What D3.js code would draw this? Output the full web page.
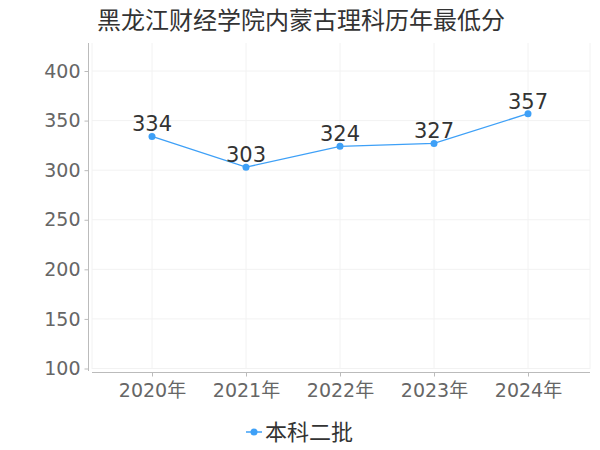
<!DOCTYPE html>
<html><head><meta charset="utf-8">
<script src="https://cdn.jsdelivr.net/npm/d3@7/dist/d3.min.js"></script>
<style>body{margin:0;background:#fff;} svg{display:block;}</style>
</head><body>
<svg id="c" width="600" height="450"></svg>
<script>
const title = "黑龙江财经学院内蒙古理科历年最低分";
const categories = ["2020年","2021年","2022年","2023年","2024年"];
const seriesName = "本科二批";
const values = [334, 303, 324, 327, 357];
const yTicks = [100,150,200,250,300,350,400];

const svg = d3.select("#c");
const font = "'DejaVu Sans','Noto Sans CJK SC',sans-serif";
const color = "#3ea0f7";

const x = d3.scalePoint().domain(categories).range([152, 528]);
const y = d3.scaleLinear().domain([100, 400]).range([368.5, 71]);
const plotL = 92, plotR = 590, plotT = 43, plotB = 369;

svg.append("text").attr("x", 97).attr("y", 29).attr("font-family", font)
  .attr("font-size", 24).attr("fill", "#333").text(title);

// grid
const g = svg.append("g");
g.selectAll(".hg").data(yTicks).join("line")
  .attr("x1", plotL).attr("x2", plotR).attr("y1", d => y(d)).attr("y2", d => y(d))
  .attr("stroke", "#f2f2f2").attr("stroke-width", 1);
const vxs = [plotL, ...categories.map(c => x(c)), plotR];
g.selectAll(".vg").data(vxs).join("line")
  .attr("x1", d => d).attr("x2", d => d).attr("y1", plotT).attr("y2", plotB)
  .attr("stroke", "#f2f2f2").attr("stroke-width", 1);

// y axis
const yAxis = d3.axisLeft(y).tickValues(yTicks).tickSize(4).tickPadding(4);
const ya = svg.append("g").attr("transform", "translate(88.5,0)").call(yAxis);
ya.select(".domain").attr("d", `M0,${plotT}V${plotB+2}`).attr("stroke", "#bbb");
ya.selectAll(".tick line").attr("stroke", "#bbb");
ya.selectAll(".tick text").attr("font-family", font).attr("font-size", 19).attr("fill", "#666");

// x axis
const xAxis = d3.axisBottom(x).tickSize(4).tickPadding(7);
const xa = svg.append("g").attr("transform", "translate(0,372.5)").call(xAxis);
xa.select(".domain").attr("d", `M${plotL},0H${plotR}`).attr("stroke", "#bbb");
xa.selectAll(".tick line").attr("stroke", "#bbb");
xa.selectAll(".tick text").attr("font-family", font).attr("font-size", 19).attr("fill", "#666");

// line
const line = d3.line().x((d, i) => x(categories[i])).y(d => y(d));
svg.append("path").datum(values).attr("d", line).attr("fill", "none")
  .attr("stroke", color).attr("stroke-width", 1.3);
svg.selectAll(".pt").data(values).join("circle")
  .attr("cx", (d, i) => x(categories[i])).attr("cy", d => y(d)).attr("r", 3.5).attr("fill", color);
svg.selectAll(".lb").data(values).join("text")
  .attr("x", (d, i) => x(categories[i])).attr("y", d => y(d) - 5)
  .attr("text-anchor", "middle").attr("font-family", font).attr("font-size", 21)
  .attr("fill", "#333").text(d => d);

// legend
const lg = svg.append("g").attr("transform", "translate(254,432)");
lg.append("line").attr("x1", -8).attr("x2", 8).attr("stroke", color).attr("stroke-width", 1.5);
lg.append("circle").attr("r", 3.5).attr("fill", color);
lg.append("text").attr("x", 11).attr("y", 8).attr("font-family", font).attr("font-size", 22)
  .attr("fill", "#333").text(seriesName);
</script>
</body></html>
